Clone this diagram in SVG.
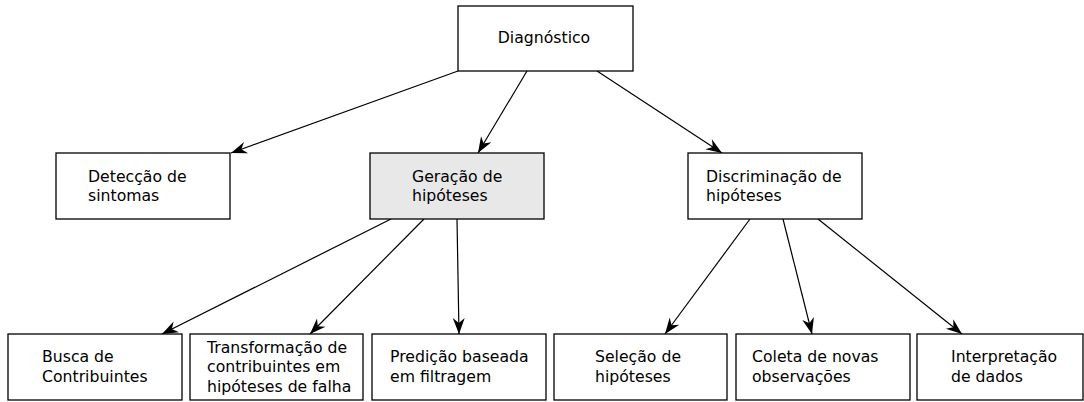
<svg xmlns="http://www.w3.org/2000/svg" width="1084" height="402" viewBox="0 0 1084 402">
  <style>
    .box { fill: #ffffff; stroke: #000000; stroke-width: 1.3; }
    .box.hl { fill: #e8e8e8; }
    .lbl { font-family: "DejaVu Sans", "Liberation Sans", sans-serif; font-size: 15.7px; fill: #000000; }
    .edge { fill: none; stroke: #000000; stroke-width: 1.2; marker-end: url(#arrow); }
  </style>
  <defs>
    <marker id="arrow" markerUnits="userSpaceOnUse" markerWidth="20" markerHeight="14" viewBox="-17 -7 18 14" refX="0" refY="0" orient="auto">
      <path d="M0,0 L-16,-6 L-11,0 L-16,6 Z" fill="#000000"/>
    </marker>
  </defs>

  <!-- connectors -->
  <g id="connectors">
    <line class="edge" x1="458" y1="71" x2="231" y2="153"/>
    <line class="edge" x1="527" y1="71" x2="478" y2="153"/>
    <line class="edge" x1="597" y1="71" x2="722" y2="153"/>
    <line class="edge" x1="391" y1="219" x2="162" y2="334"/>
    <line class="edge" x1="424" y1="219" x2="310" y2="334"/>
    <line class="edge" x1="457" y1="219" x2="459" y2="334"/>
    <line class="edge" x1="750" y1="219" x2="665" y2="334"/>
    <line class="edge" x1="783" y1="219" x2="812" y2="334"/>
    <line class="edge" x1="818" y1="219" x2="962" y2="334"/>
  </g>

  <!-- level 0 -->
  <g id="diagnostico">
    <rect class="box" x="458" y="6" width="175" height="65"/>
    <text class="lbl" x="544" y="43" text-anchor="middle">Diagnóstico</text>
  </g>

  <!-- level 1 -->
  <g id="deteccao">
    <rect class="box" x="56" y="153" width="174" height="66"/>
    <text class="lbl" x="88" y="181.7">Detecção de</text>
    <text class="lbl" x="88" y="201.2">sintomas</text>
  </g>
  <g id="geracao">
    <rect class="box hl" x="370" y="153" width="174" height="66"/>
    <text class="lbl" x="412" y="181.7">Geração de</text>
    <text class="lbl" x="412" y="201.2">hipóteses</text>
  </g>
  <g id="discriminacao">
    <rect class="box" x="688" y="153" width="174" height="66"/>
    <text class="lbl" x="706" y="181.7">Discriminação de</text>
    <text class="lbl" x="706" y="201.2">hipóteses</text>
  </g>

  <!-- level 2 -->
  <g id="busca">
    <rect class="box" x="8" y="334" width="174" height="66"/>
    <text class="lbl" x="42" y="361.7">Busca de</text>
    <text class="lbl" x="42" y="381.5">Contribuintes</text>
  </g>
  <g id="transformacao">
    <rect class="box" x="190" y="334" width="173" height="66"/>
    <text class="lbl" x="207" y="352.5">Transformação de</text>
    <text class="lbl" x="207" y="372">contribuintes em</text>
    <text class="lbl" x="207" y="391.5">hipóteses de falha</text>
  </g>
  <g id="predicao">
    <rect class="box" x="372" y="334" width="174" height="66"/>
    <text class="lbl" x="390" y="361.7">Predição baseada</text>
    <text class="lbl" x="390" y="381.5">em filtragem</text>
  </g>
  <g id="selecao">
    <rect class="box" x="554" y="334" width="173" height="66"/>
    <text class="lbl" x="595" y="361.7">Seleção de</text>
    <text class="lbl" x="595" y="381.5">hipóteses</text>
  </g>
  <g id="coleta">
    <rect class="box" x="736" y="334" width="174" height="66"/>
    <text class="lbl" x="752" y="361.7">Coleta de novas</text>
    <text class="lbl" x="752" y="381.5">observações</text>
  </g>
  <g id="interpretacao">
    <rect class="box" x="917" y="334" width="166" height="66"/>
    <text class="lbl" x="951" y="361.7">Interpretação</text>
    <text class="lbl" x="951" y="381.5">de dados</text>
  </g>
</svg>
